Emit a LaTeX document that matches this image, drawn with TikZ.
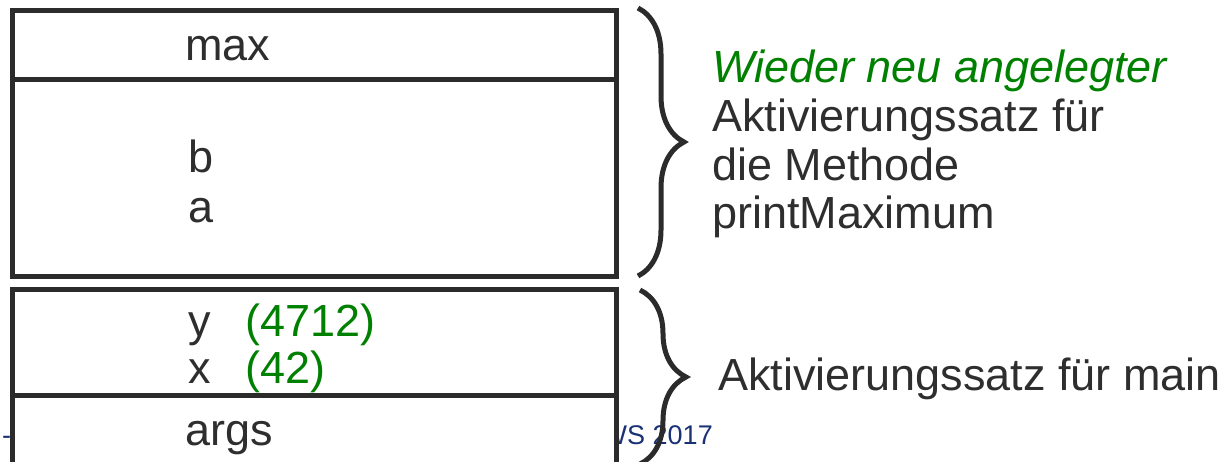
\documentclass[tikz,border=0pt]{standalone}
\usepackage{fontspec}
\setmainfont{Liberation Sans}
\usetikzlibrary{decorations.pathreplacing}
\definecolor{framegray}{HTML}{2B2B2B}
\definecolor{textgray}{HTML}{2E2E2E}
\definecolor{valgreen}{HTML}{008000}
\definecolor{footblue}{HTML}{1A3275}
\tikzset{
  cell/.style={draw=framegray, line width=5pt, fill=white, minimum width=604pt, inner sep=0pt},
  lbl/.style={anchor=base west, inner sep=0pt, text=textgray, font=\fontsize{45}{49}\selectfont},
  val/.style={lbl, text=valgreen},
  footer/.style={anchor=base west, inner sep=0pt, text=footblue, font=\fontsize{27}{30}\selectfont},
  framebrace/.style={draw=framegray, line width=5pt, decorate, decoration={brace, amplitude=46pt}}
}
\begin{document}
\begin{tikzpicture}[x=1pt,y=-1pt]
  \useasboundingbox (0,0) rectangle (1229,461);
  % footer, mostly covered by the stack
  \node[footer] (dash) at (2,444) {-};
  \node[footer, anchor=base east] (term) at (713,444) {WS 2017};
  % stack cells
  \node[cell, minimum height=69pt] (maxcell) at (314,44.5) {};
  \node[cell, minimum height=197pt] (bacell) at (314,177.5) {};
  \node[cell, minimum height=106pt] (yxcell) at (314,342) {};
  \node[cell, minimum height=71pt] (argscell) at (314,430.5) {};
  % variables
  \node[lbl] (max) at (185,60) {max};
  \node[lbl] (b) at (188,172) {b};
  \node[lbl] (a) at (188,222) {a};
  \node[lbl] (y) at (188,336) {y};
  \node[val] (yval) at (245,336) {(4712)};
  \node[lbl] (x) at (188,383) {x};
  \node[val] (xval) at (245,383) {(42)};
  \node[lbl] (args) at (185,445) {args};
  % braces and their texts
  \coordinate (uptop) at (638,8);
  \coordinate (upbot) at (638,276);
  \coordinate (lotop) at (640,290);
  \coordinate (lobot) at (640,464);
  \draw[framebrace] (uptop) -- (upbot);
  \draw[framebrace] (lotop) -- (lobot);
  \node[val, font=\fontsize{45}{49}\selectfont\itshape] (again) at (712,82) {Wieder neu angelegter};
  \node[lbl] (frame1) at (712,131) {Aktivierungssatz für};
  \node[lbl] (frame2) at (712,180) {die Methode};
  \node[lbl] (frame3) at (712,228) {printMaximum};
  \node[lbl] (mainframe) at (718,390) {Aktivierungssatz für main};
\end{tikzpicture}
\end{document}
